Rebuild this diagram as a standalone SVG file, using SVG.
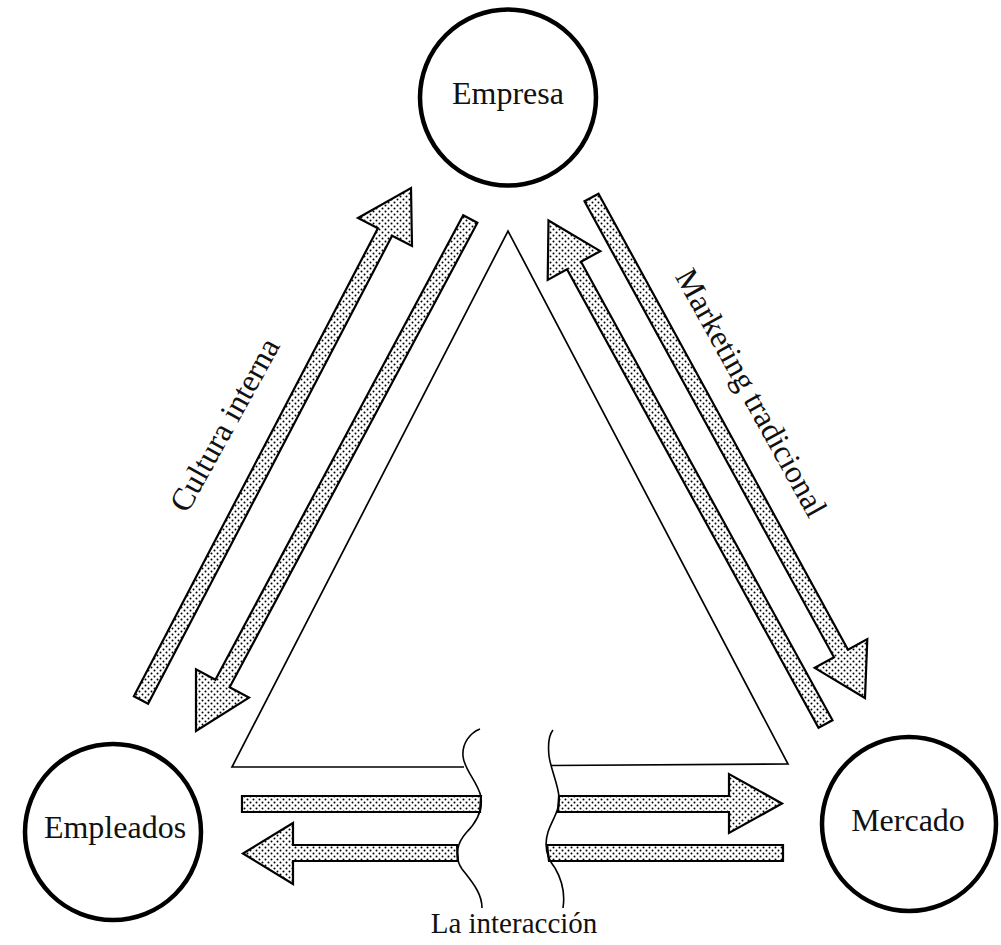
<svg xmlns="http://www.w3.org/2000/svg" width="1001" height="945" viewBox="0 0 1001 945">
  <defs>
    <!-- stipple screen used inside the flow arrows -->
    <pattern id="dots" width="6" height="6" patternUnits="userSpaceOnUse">
      <rect width="6" height="6" fill="#ffffff"/>
      <circle cx="1.5" cy="1.5" r="1" fill="#000"/>
      <circle cx="4.5" cy="4.5" r="1" fill="#000"/>
    </pattern>
  </defs>
  <style>
    .node { fill: #ffffff; stroke: #000; stroke-width: 4.5; }
    .lbl { font-family: "Liberation Serif", "Times New Roman", serif; font-size: 32px; fill: #111; text-anchor: middle; }
    .flow { fill: url(#dots); stroke: #000; stroke-width: 2.2; stroke-linejoin: miter; }
    .line { fill: none; stroke: #000; stroke-width: 1.7; }
    .wave { fill: none; stroke: #000; stroke-width: 1.6; }
  </style>
  <rect width="1001" height="945" fill="#ffffff"/>

  <g id="connectors">
    <!-- central triangle, base broken by the interaction band -->
    <path class="line" d="M464,767 L232,767 L508,231 L788,764 L551,765.5"/>

    <!-- Empleados <-> Empresa -->
    <polygon class="flow" points="133.9,696.3 377.9,228.3 358,218 411,188 412,246 392.1,235.7 148.1,703.7"/>
    <polygon class="flow" points="463.2,215.2 477.4,222.8 229.6,687.3 249,697.6 196,731 196,669.4 215.4,679.7"/>

    <!-- Empresa <-> Mercado -->
    <polygon class="flow" points="584.5,201.3 598.5,193.7 848,649.7 867.3,639.1 865,698 814.7,667.9 834,657.3"/>
    <polygon class="flow" points="818.5,727.8 832.5,720.2 581,261.7 600.3,251.1 548.5,220.5 547.7,279.9 567,269.3"/>

    <!-- Empleados <-> Mercado, interrupted by the interaction zone -->
    <path class="flow" d="M481,796 L242,796 L242,812 L480,812 Z"/>
    <path class="flow" d="M457,845 L293,845 L293,823 L243,853.5 L293,884 L293,861 L458,861 Z"/>
    <path class="flow" d="M559,796 L729,796 L729,774 L782,803.5 L729,833 L729,812 L558,812 Z"/>
    <path class="flow" d="M547,845 L783,845 L783,861 L549,861 Z"/>

    <!-- wavy edges of the interaction zone -->
    <path class="wave" d="M480,729 C470,733 462,743 463,756 C464,770 478,782 481,797 C483,812 475,824 466,833 C458,842 453,856 462,869 C472,882 482,893 482,908"/>
    <path class="wave" d="M553,730 C548,736 548,746 549,756 C551,770 558,784 559,797 C560,810 552,820 548,832 C544,845 547,858 555,868 C562,880 565,895 563,908"/>
  </g>

  <g id="empresa">
    <circle class="node" cx="508" cy="97.5" r="88"/>
    <text class="lbl" x="508" y="104">Empresa</text>
  </g>
  <g id="empleados">
    <circle class="node" cx="113" cy="832" r="88"/>
    <text class="lbl" x="115" y="838">Empleados</text>
  </g>
  <g id="mercado">
    <circle class="node" cx="909" cy="824" r="87"/>
    <text class="lbl" x="908" y="831">Mercado</text>
  </g>

  <g id="labels">
    <text class="lbl" transform="translate(234,430) rotate(-61)">Cultura interna</text>
    <text class="lbl" transform="translate(742,398) rotate(61)">Marketing tradicional</text>
    <text class="lbl" x="514" y="933" style="font-size:29px">La interacción</text>
  </g>
</svg>
